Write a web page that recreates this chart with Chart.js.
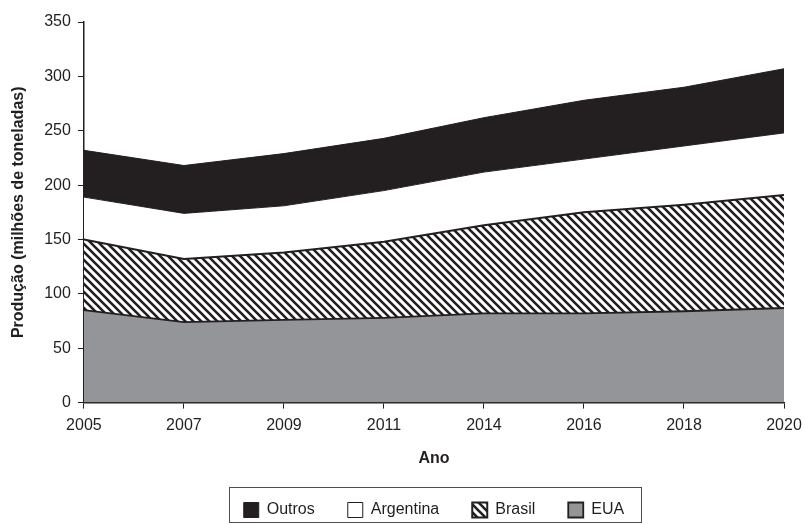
<!DOCTYPE html>
<html>
<head>
<meta charset="utf-8">
<script src="https://cdn.jsdelivr.net/npm/chart.js@4"></script>
<style>
  html, body { margin: 0; padding: 0; background: #fff; }
  #wrap { width: 805px; height: 524px; }
</style>
</head>
<body>
<div id="wrap"><canvas id="prodChart" width="805" height="524"></canvas></div>
<script>
const anos = ["2005", "2007", "2009", "2011", "2014", "2016", "2018", "2020"];
const eua = [85, 74, 76, 78, 82, 82, 84, 87];
const brasil = [65, 58, 62, 70, 81, 93, 98, 104];
const argentina = [39, 42, 43, 47, 49, 49, 54, 57];
const outros = [43, 44, 48, 48, 50, 54, 54, 59];
const yTicks = [0, 50, 100, 150, 200, 250, 300, 350];

// diagonal hatch for Brasil
function hatch() {
    const c = document.createElement("canvas");
    c.width = 8; c.height = 8;
    const g = c.getContext("2d");
    g.fillStyle = "#fff";
    g.fillRect(0, 0, 8, 8);
    g.strokeStyle = "#231f20";
    g.lineWidth = 2.6;
    g.beginPath();
    g.moveTo(-2, -2); g.lineTo(10, 10);
    g.moveTo(-10, -2); g.lineTo(2, 10);
    g.moveTo(6, -2); g.lineTo(18, 10);
    g.stroke();
    return g.createPattern(c, "repeat");
}

// centre the legend under the plot and put a frame round it
const legendBox = {
    id: "legendBox",
    beforeDraw(chart) {
        const l = chart.legend;
        const mid = (chart.chartArea.left + chart.chartArea.right) / 2;
        l.left = mid - l.width / 2;
        l.right = l.left + l.width;
    },
    afterDraw(chart) {
        const l = chart.legend;
        const pad = l.options.labels.padding;
        const w = l.lineWidths[0] - pad;
        const mid = (l.left + l.right) / 2;
        const ctx = chart.ctx;
        ctx.save();
        ctx.strokeStyle = "#4d4d4f";
        ctx.lineWidth = 1;
        ctx.strokeRect(Math.round(mid - w / 2 - 15) + 0.5, 487.5, Math.round(w + 32), 35);
        ctx.restore();
    }
};

document.addEventListener("DOMContentLoaded", function () {
    const ctx = document.getElementById("prodChart").getContext("2d");
    Chart.defaults.font.family = "'Liberation Sans', Arial, sans-serif";
    Chart.defaults.color = "#231f20";

    new Chart(ctx, {
        type: "line",
        data: {
            labels: anos,
            datasets: [
                { label: "EUA", data: eua, backgroundColor: "#939598", borderColor: "#231f20", borderWidth: 1.8, fill: "origin" },
                { label: "Brasil", data: brasil, backgroundColor: hatch(), borderColor: "#231f20", borderWidth: 2, fill: "-1" },
                { label: "Argentina", data: argentina, backgroundColor: "#ffffff", borderColor: "#231f20", borderWidth: 1, fill: "-1" },
                { label: "Outros", data: outros, backgroundColor: "#231f20", borderColor: "#231f20", borderWidth: 1, fill: "-1" }
            ]
        },
        options: {
            responsive: false,
            animation: false,
            elements: { point: { radius: 0 }, line: { tension: 0 } },
            layout: { padding: { top: 22, right: 21, left: 0, bottom: 0 } },
            plugins: {
                tooltip: { enabled: false },
                legend: {
                    position: "bottom",
                    reverse: true,
                    maxHeight: 55,
                    labels: { boxWidth: 15, boxHeight: 15, padding: 33, font: { size: 16 }, color: "#231f20" }
                }
            },
            scales: {
                x: {
                    stacked: true,
                    offset: false,
                    afterFit: function (axis) { axis.paddingRight = 2; },
                    grid: { display: true, drawOnChartArea: false, color: "#231f20", tickLength: 6 },
                    border: { color: "#231f20", width: 1.5 },
                    ticks: { font: { size: 16 }, color: "#231f20", maxRotation: 0, padding: 7 },
                    title: { display: true, text: "Ano", font: { size: 16, weight: "bold" }, color: "#231f20", padding: { top: 7, bottom: 1 } }
                },
                y: {
                    stacked: true,
                    min: 0,
                    max: 350,
                    afterBuildTicks: function (axis) { axis.ticks = yTicks.map(v => ({ value: v })); },
                    grid: { display: true, drawOnChartArea: false, color: "#231f20", tickLength: 6 },
                    border: { color: "#231f20", width: 1.5 },
                    ticks: { font: { size: 16 }, color: "#231f20", padding: 7 },
                    title: { display: true, text: "Produção (milhões de toneladas)", font: { size: 16, weight: "bold" }, color: "#231f20", padding: { top: 9, bottom: 9 } }
                }
            }
        },
        plugins: [legendBox]
    });
});
</script>
</body>
</html>
